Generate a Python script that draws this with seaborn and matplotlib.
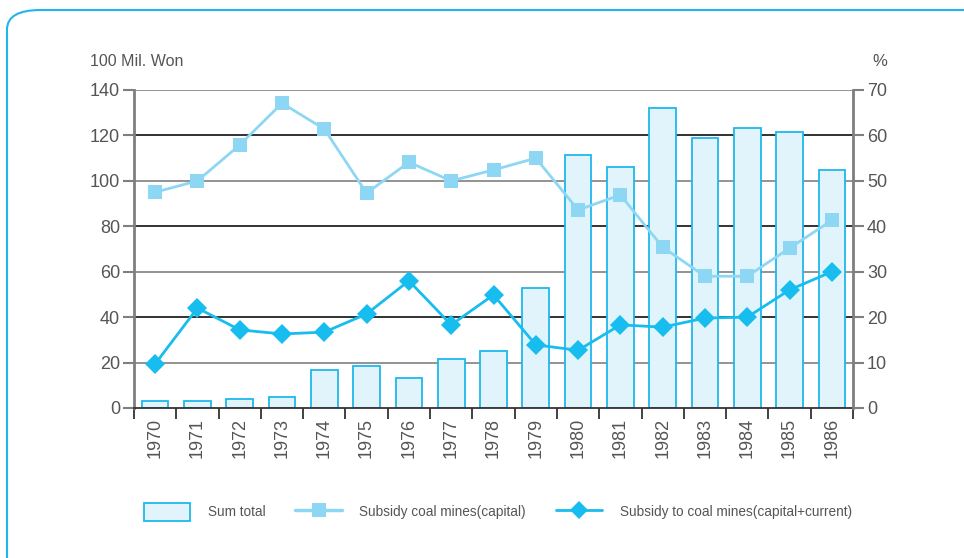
import numpy as np
import pandas as pd
import matplotlib
matplotlib.use("Agg")
import matplotlib.pyplot as plt
import seaborn as sns
from matplotlib.patches import FancyBboxPatch, Patch
from matplotlib.lines import Line2D

# Data
years = [str(y) for y in range(1970, 1987)]
sum_total = [3, 3.3, 4, 5, 16.7, 18.5, 13.2, 21.6, 25, 52.8,
             111.5, 106, 132, 119, 123.3, 121.5, 104.8]
capital_pct = [47.5, 50, 57.9, 67.1, 61.4, 47.3, 54.1, 50, 52.4, 55,
               43.6, 46.9, 35.4, 29, 29, 35.2, 41.3]
capital_current_pct = [9.7, 22, 17.2, 16.3, 16.7, 20.7, 28, 18.3, 24.9, 13.9,
                       12.7, 18.3, 17.8, 19.8, 20, 26, 30]

left_ticks = list(range(0, 141, 20))
right_ticks = list(range(0, 71, 10))

df = pd.DataFrame({"year": years, "total": sum_total,
                   "capital": capital_pct, "both": capital_current_pct})
df["pos"] = np.arange(len(df))

sns.set_theme(style="white")
plt.rcParams["font.family"] = ["Liberation Sans", "DejaVu Sans"]

BAR_FILL = "#e1f4fb"
BAR_EDGE = "#1fb8ec"
CAP_COLOR = "#8dd7f5"
BOTH_COLOR = "#17bdee"
TXT = "#555555"
AX_GRAY = "#7f7f7f"

fig = plt.figure(figsize=(9.64, 5.58), dpi=100)

# rounded frame around the whole figure
frame = FancyBboxPatch((7 / 964, 1 - 600 / 558), 1000 / 964, 590 / 558,
                       boxstyle="round,pad=0,rounding_size=0.035",
                       transform=fig.transFigure, fill=False,
                       edgecolor="#22b5ea", linewidth=1.5, clip_on=False)
fig.patches.append(frame)

ax = fig.add_axes([134 / 964, 1 - 408 / 558, (853 - 134) / 964, (408 - 90) / 558])

# horizontal rules alternating gray / dark
for i, v in enumerate(left_ticks[1:]):
    ax.axhline(v, color="#8a8a8a" if i % 2 == 0 else "#222222",
               linewidth=1.3, zorder=0)

sns.barplot(data=df, x="year", y="total", ax=ax, color=BAR_FILL,
            edgecolor=BAR_EDGE, linewidth=1.3, width=0.63, saturation=1,
            zorder=2)

ax.set_xlim(-0.5, len(years) - 0.5)
ax.set_ylim(0, 140)
ax.set_yticks(left_ticks)
ax.set_xlabel("")
ax.set_ylabel("")
ax.tick_params(axis="y", labelsize=13, colors=TXT, length=8, width=1.5,
               direction="out", left=True, pad=2)
ax.tick_params(axis="y", color=AX_GRAY)
ax.set_xticks(df["pos"])
ax.set_xticklabels(years, rotation=90, fontsize=13, color=TXT)
ax.tick_params(axis="x", which="major", length=0, pad=7)
ax.set_xticks(np.arange(-0.5, len(years), 1), minor=True)
ax.tick_params(axis="x", which="minor", length=8, width=1.3,
               color="#333333", direction="out", bottom=True)

for side in ["top", "right"]:
    ax.spines[side].set_visible(False)
ax.spines["left"].set_color(AX_GRAY)
ax.spines["left"].set_linewidth(2)
ax.spines["bottom"].set_color("#333333")
ax.spines["bottom"].set_linewidth(1.3)

ax2 = ax.twinx()
sns.lineplot(data=df, x="pos", y="capital", ax=ax2, color=CAP_COLOR,
             linewidth=2, marker="s", markersize=10.5, markeredgewidth=0,
             zorder=3)
sns.lineplot(data=df, x="pos", y="both", ax=ax2, color=BOTH_COLOR,
             linewidth=2, marker="D", markersize=10, markeredgewidth=0,
             zorder=4)
ax2.set_ylim(0, 70)
ax2.set_yticks(right_ticks)
ax2.set_ylabel("")
ax2.set_xlabel("")
ax2.tick_params(axis="y", labelsize=13, labelcolor=TXT, color=AX_GRAY,
                length=8, width=1.5, direction="out", right=True, pad=2)
for side in ["top", "left", "bottom"]:
    ax2.spines[side].set_visible(False)
ax2.spines["right"].set_color(AX_GRAY)
ax2.spines["right"].set_linewidth(2)
ax2.set_xlim(-0.5, len(years) - 0.5)

fig.text(90 / 964, 1 - 61 / 558, "100 Mil. Won", fontsize=11.5, color=TXT,
         va="center", ha="left")
fig.text(880 / 964, 1 - 61 / 558, "%", fontsize=12, color=TXT,
         va="center", ha="center")

handles = [
    Patch(facecolor=BAR_FILL, edgecolor=BAR_EDGE, linewidth=1.3),
    Line2D([], [], color=CAP_COLOR, linewidth=2.5, marker="s",
           markersize=10, markeredgewidth=0),
    Line2D([], [], color=BOTH_COLOR, linewidth=2, marker="D",
           markersize=9, markeredgewidth=0),
]
labels = ["Sum total", "Subsidy coal mines(capital)",
          "Subsidy to coal mines(capital+current)"]
leg = fig.legend(handles, labels, loc="center", ncol=3,
                 bbox_to_anchor=(498 / 964, 1 - 512 / 558), frameon=False,
                 fontsize=9.8, handlelength=3.4, handleheight=1.6,
                 columnspacing=2.2, handletextpad=1.3)
for t in leg.get_texts():
    t.set_color(TXT)

fig.savefig("out.png", dpi=100)
